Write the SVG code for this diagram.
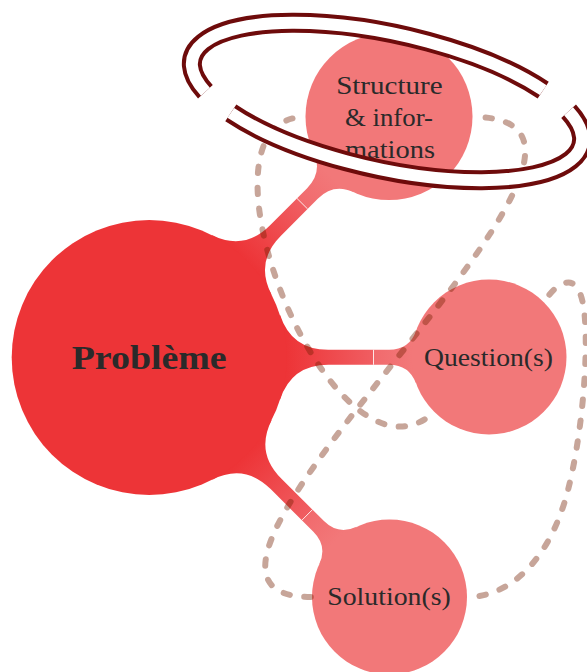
<svg xmlns="http://www.w3.org/2000/svg" width="587" height="672" viewBox="0 0 587 672">
<defs>
<style>
.lbl{font-family:"Liberation Serif","Times New Roman",serif;font-size:26px;fill:#2a2a2a;text-anchor:middle}
.main{font-family:"Liberation Serif","Times New Roman",serif;font-size:33px;font-weight:bold;fill:#2a2a2a;text-anchor:middle}
.dash{fill:none;stroke:rgb(115,30,0);stroke-opacity:0.4;stroke-width:6;stroke-linecap:round;stroke-dasharray:6.5 14.5;stroke-dashoffset:8.5}
.seam{stroke:#ffffff;stroke-width:1;stroke-opacity:0.85}
.ringout{fill:none;stroke:#6E0B0B;stroke-width:20}
.ringin{fill:none;stroke:#ffffff;stroke-width:12}
</style>
<linearGradient id="gQ" gradientUnits="userSpaceOnUse" x1="286.7" y1="357.25" x2="411.5" y2="357.25">
<stop offset="0" stop-color="#ED3437"/><stop offset="0.7" stop-color="#F05E62"/><stop offset="0.701" stop-color="#F16A6D"/><stop offset="1" stop-color="#F27879"/>
</linearGradient>
<linearGradient id="gS" gradientUnits="userSpaceOnUse" x1="246.18" y1="260.03" x2="330.11" y2="175.69">
<stop offset="0" stop-color="#ED3437"/><stop offset="0.668" stop-color="#F05E62"/><stop offset="0.669" stop-color="#F16A6D"/><stop offset="1" stop-color="#F27879"/>
</linearGradient>
<linearGradient id="gL" gradientUnits="userSpaceOnUse" x1="246.59" y1="454.56" x2="334.61" y2="542.29">
<stop offset="0" stop-color="#ED3437"/><stop offset="0.688" stop-color="#F05E62"/><stop offset="0.689" stop-color="#F16A6D"/><stop offset="1" stop-color="#F27879"/>
</linearGradient>
</defs>
<g id="connectors">
<path fill="url(#gS)" d="M271.55,294.77 Q254.77,262.03 280.73,235.94 L317.77,198.73 Q333.58,182.84 353.91,192.26 L313.41,151.98 Q322.94,172.26 307.13,188.15 L270.09,225.36 Q244.13,251.45 211.31,234.83 Z"/>
<path fill="url(#gQ)" d="M280,314.75 Q291.4,349.75 328.2,349.75 L389.1,349.75 Q409.3,349.75 416.2,330.75 L416.2,383.75 Q409.3,364.75 389.1,364.75 L328.2,364.75 Q291.4,364.75 280,399.75 Z"/>
<path fill="url(#gL)" d="M211.83,479.91 Q244.59,463.15 270.65,489.12 L313.39,531.74 Q327.72,546.01 319.21,564.37 L356.63,526.81 Q338.30,535.39 323.97,521.12 L281.23,478.50 Q255.17,452.53 271.81,419.71 Z"/>
</g>
<g id="probleme">
<circle cx="149.2" cy="357.5" r="137.5" fill="#ED3437"/>
</g>
<g id="structure">
<circle cx="389" cy="116.5" r="83.5" fill="#F27879"/>
</g>
<g id="question">
<circle cx="489" cy="357" r="77.5" fill="#F27879"/>
</g>
<g id="solution">
<circle cx="389.5" cy="597" r="77.5" fill="#F27879"/>
</g>
<g id="seams">
<line class="seam" x1="307.57" y1="208.96" x2="296.93" y2="198.38"/>
<line class="seam" x1="373.5" y1="349.75" x2="373.5" y2="364.75"/>
<line class="seam" x1="301.86" y1="520.23" x2="312.44" y2="509.61"/>
</g>
<g id="labels">
<text class="main" x="149.2" y="369.3" textLength="155" lengthAdjust="spacingAndGlyphs">Problème</text>
<text class="lbl" x="389.4" y="94.3" textLength="106.5" lengthAdjust="spacingAndGlyphs">Structure</text>
<text class="lbl" x="389" y="126" textLength="88" lengthAdjust="spacingAndGlyphs">&amp; infor-</text>
<text class="lbl" x="390" y="158.3" textLength="90" lengthAdjust="spacingAndGlyphs">mations</text>
<text class="lbl" x="488.5" y="365.5" textLength="129" lengthAdjust="spacingAndGlyphs">Question(s)</text>
<text class="lbl" x="389" y="605" textLength="123.5" lengthAdjust="spacingAndGlyphs">Solution(s)</text>
</g>
<g id="dashed-links">
<path class="dash" d="M305,117 C180,117 330,500 432,414"/>
<path class="dash" d="M473,117 C700,117 100,597 311,597"/>
<path class="dash" d="M467,597 C510,597 550,560 568,490 C582,435 588,360 585,320 C583,290 575,280 565,283 C557,285 550,293 545,301"/>
</g>
<g id="ring" transform="translate(387,101.5) rotate(12.3)">
<path class="ringout" d="M150.2,-44.4 A199,67.6 0 0 0 -179.5,29.2"/>
<path class="ringin" d="M150.2,-44.4 A199,67.6 0 0 0 -179.5,29.2"/>
<path class="ringout" d="M179.5,-29.2 A199,67.6 0 0 1 -150.2,44.4"/>
<path class="ringin" d="M179.5,-29.2 A199,67.6 0 0 1 -150.2,44.4"/>
</g>
</svg>
